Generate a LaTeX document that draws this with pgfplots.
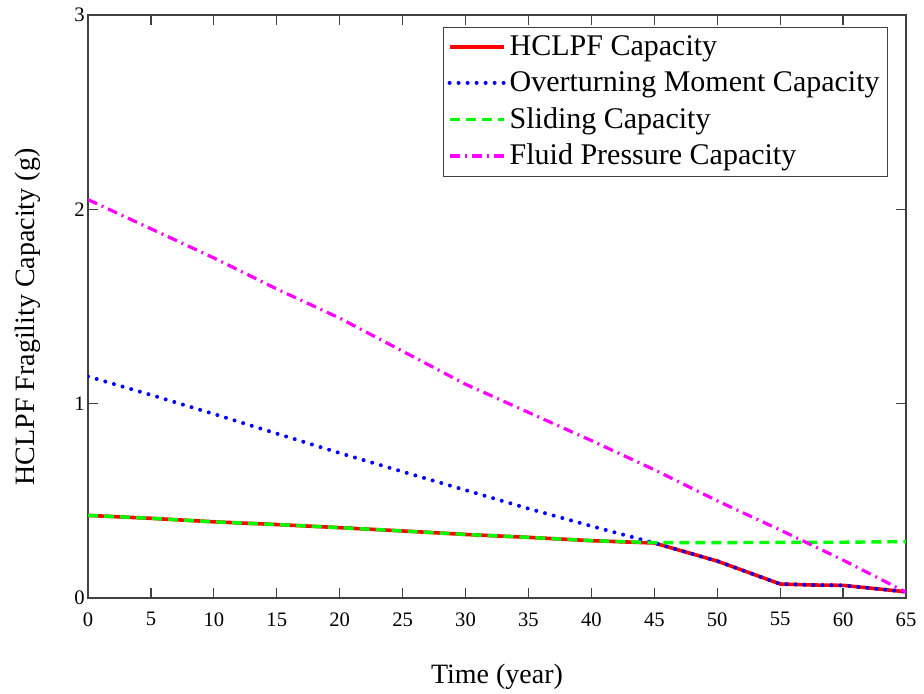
\documentclass[border=0pt]{standalone}
\usepackage{fontspec}
\setmainfont{Liberation Serif}
\usepackage{pgfplots}
\pgfplotsset{compat=1.18}
\definecolor{mag}{RGB}{255,0,255}
\definecolor{grn}{RGB}{0,255,0}
\begin{document}
\begin{tikzpicture}
\begin{axis}[
  name=ax,
  scale only axis,
  width=409pt, height=291.5pt,
  xmin=0, xmax=65, ymin=0, ymax=3,
  xtick={0,5,...,65}, ytick={0,1,2,3},
  tick align=inside,
  major tick length=5pt,
  tick style={black!75, line width=0.6pt},
  axis line style={black!75, line width=0.6pt},
  /pgf/number format/assume math mode=true,
  ticklabel style={font=\fontsize{10.3}{12}\selectfont},
  yticklabel style={inner xsep=1.5pt},
  xticklabel style={yshift=-3.7pt},
  xlabel={Time (year)},
  ylabel={HCLPF Fragility Capacity (g)},
  label style={font=\fontsize{14}{16}\selectfont},
  xlabel style={at={(axis description cs:0.5,-0.1475)}, anchor=base, inner sep=0pt},
  ylabel style={at={(axis description cs:-0.0575,0.482)}, anchor=south, inner sep=0pt},
  legend style={at={(0.978,0.979)}, anchor=north east, draw=black!75,
    font=\fontsize{15}{17}\selectfont, row sep=2.5pt, inner sep=2pt},
  legend cell align=left,
  legend image code/.code={\draw[#1] (0cm,0cm) -- (0.95cm,0cm);},
]
\addplot[red, line width=1.8pt] coordinates {
(0,0.425) (5,0.41) (10,0.392) (15,0.378) (20,0.362) (25,0.345) (30,0.327) (35,0.312) (40,0.295) (45,0.283)
(50,0.19) (55,0.072) (57.5,0.067) (60,0.065) (65,0.032)};
\addlegendentry{HCLPF Capacity}
\addplot[blue, line width=2pt, line cap=round, dash pattern=on 0pt off 4.5pt] coordinates {
(0,1.14) (5,1.045) (10,0.947) (15,0.846) (20,0.746) (25,0.65) (30,0.555) (35,0.46) (40,0.37) (45,0.283)
(50,0.19) (55,0.072) (57.5,0.067) (60,0.065) (65,0.032)};
\addlegendentry{Overturning Moment Capacity}
\addplot[grn, line width=1.7pt, dash pattern=on 5pt off 3pt] coordinates {
(0,0.425) (5,0.41) (10,0.392) (15,0.378) (20,0.362) (25,0.345) (30,0.327) (35,0.312) (40,0.295) (45,0.285)
(50,0.285) (55,0.286) (60,0.287) (65,0.29)};
\addlegendentry{Sliding Capacity}
\addplot[mag, line width=1.6pt, dash pattern=on 5pt off 2.5pt on 1pt off 2.5pt] coordinates {
(0,2.05) (5,1.9) (10,1.75) (15,1.59) (20,1.44) (25,1.27) (30,1.1) (35,0.955) (40,0.81) (45,0.66)
(50,0.5) (55,0.35) (60,0.195) (65,0.03)};
\addlegendentry{Fluid Pressure Capacity}
\end{axis}
\path ([xshift=-44pt,yshift=-48pt]ax.south west) rectangle ([xshift=9pt,yshift=7.5pt]ax.north east);
\end{tikzpicture}
\end{document}
